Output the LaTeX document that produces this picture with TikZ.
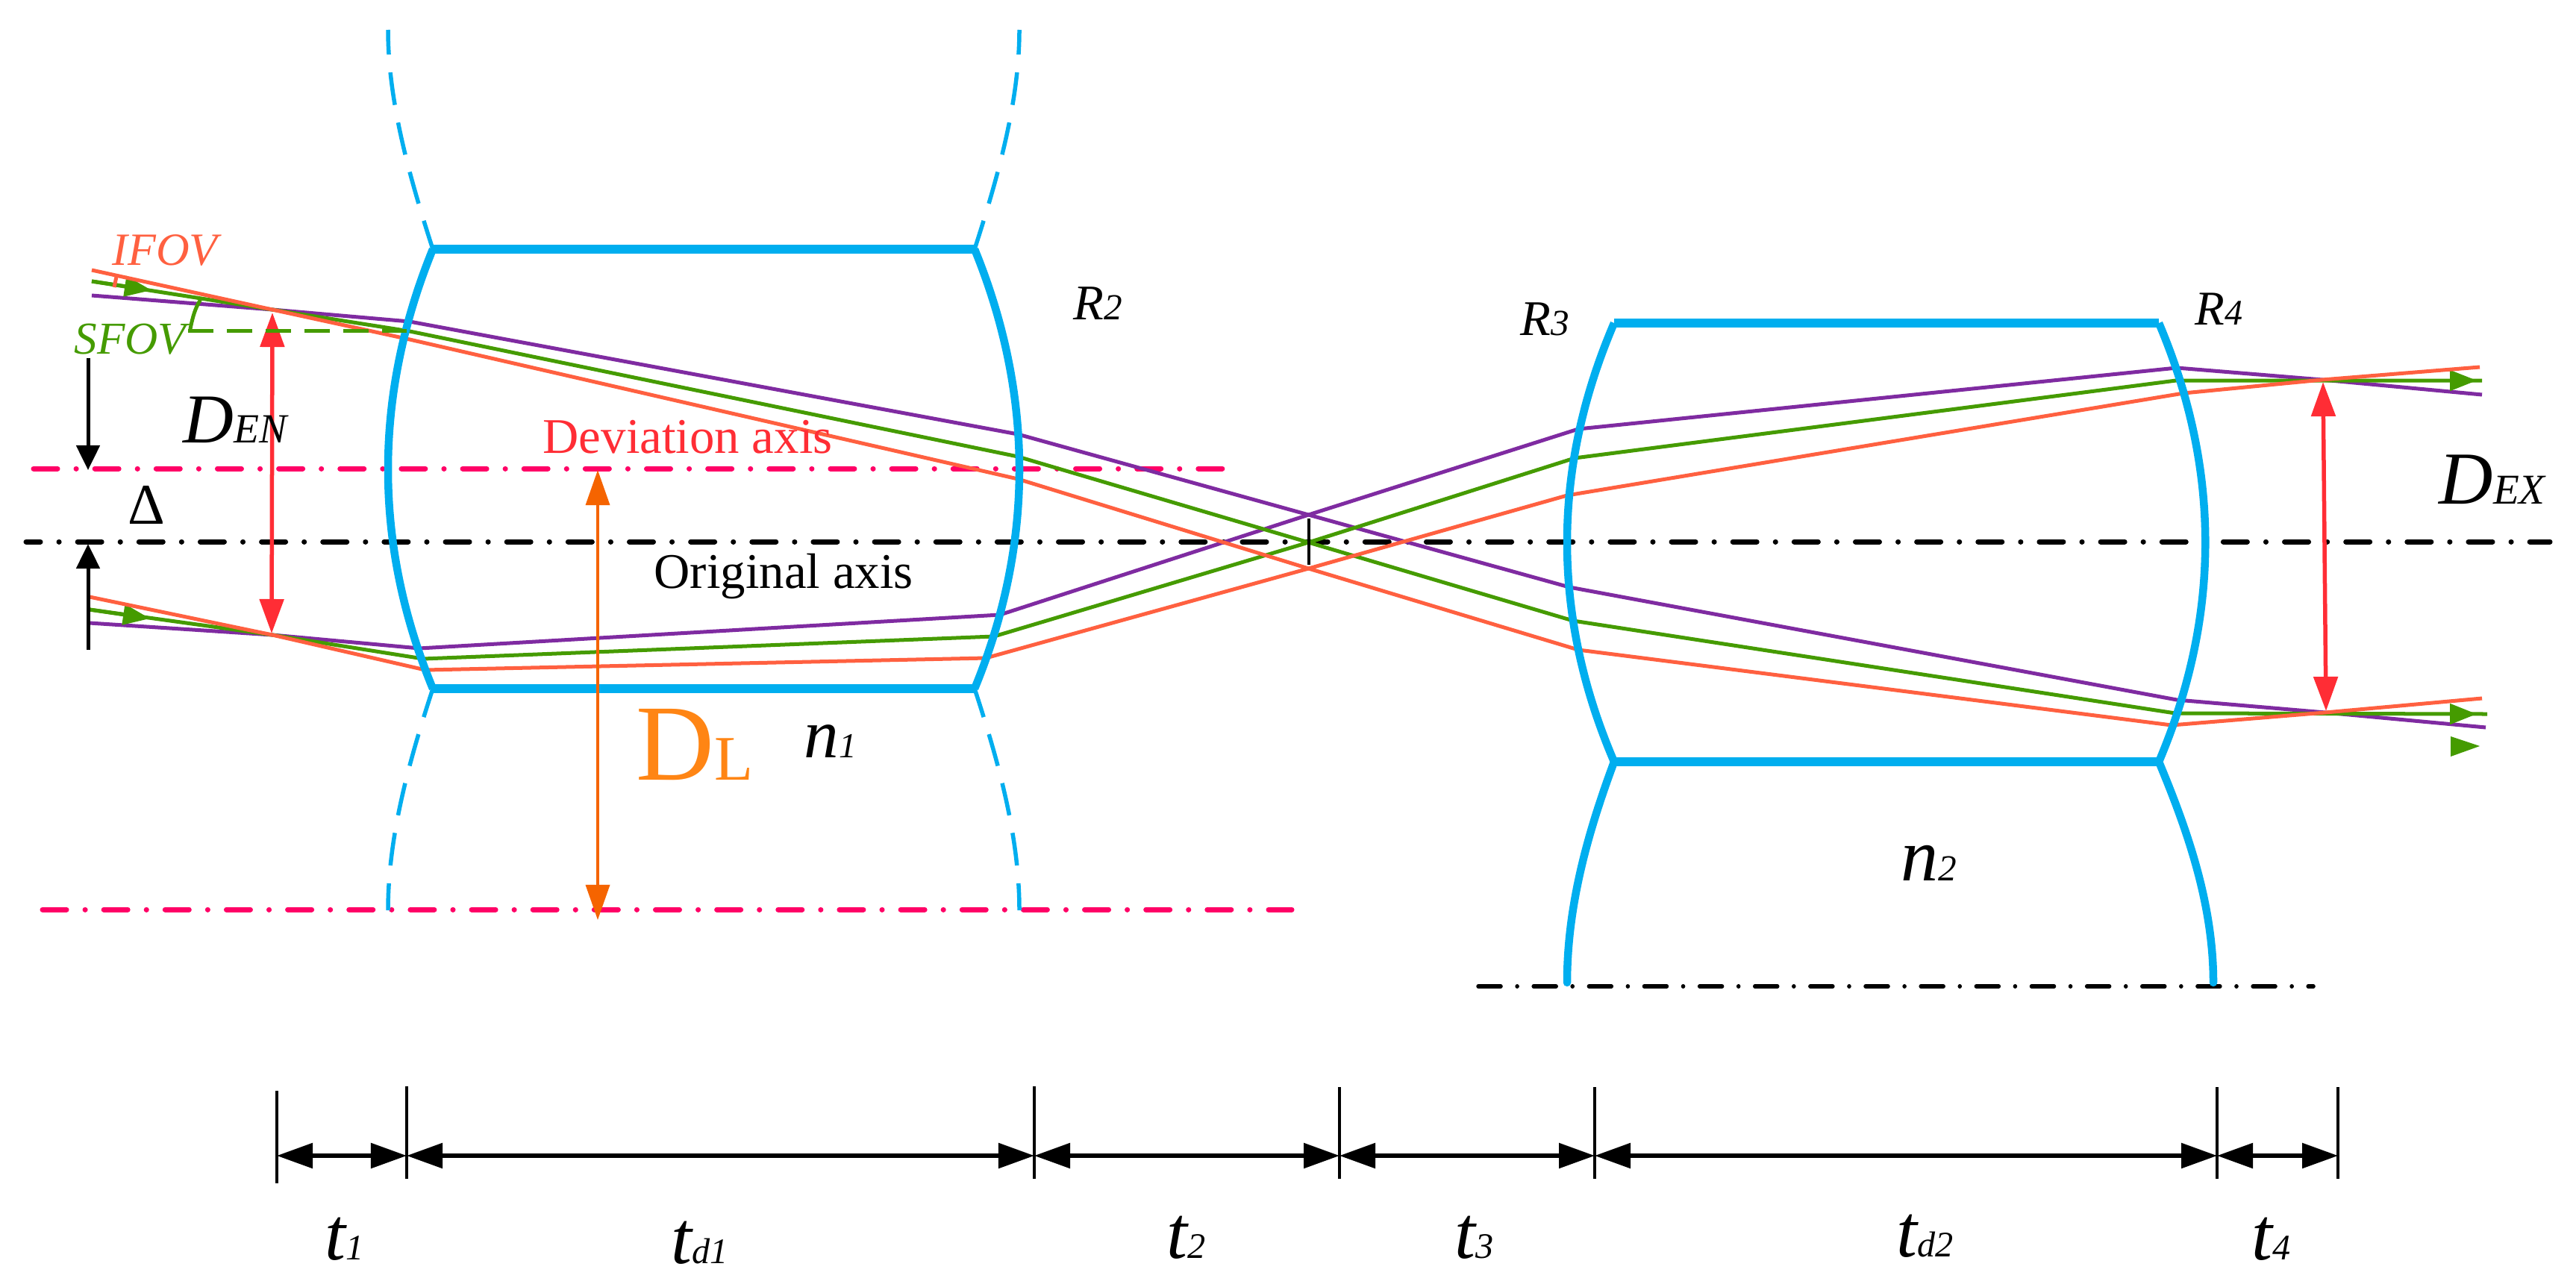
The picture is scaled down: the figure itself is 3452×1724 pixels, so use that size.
\documentclass[tikz,border=0pt]{standalone}
\usepackage{fontspec}
\setmainfont{Liberation Serif}
\usetikzlibrary{arrows.meta}
\newcommand{\fsz}[1]{\fontsize{#1}{#1}\selectfont}
\definecolor{rayPurple}{HTML}{7F2BA1}
\definecolor{rayGreen}{HTML}{459B00}
\definecolor{rayOrange}{HTML}{FF6040}
\definecolor{lensBlue}{HTML}{00AEEF}
\definecolor{axisPink}{HTML}{FF0066}
\definecolor{dimRed}{HTML}{FF2D35}
\definecolor{lensOrange}{HTML}{F56400}
\definecolor{labelOrange}{HTML}{FF8514}
\tikzset{
	lbl/.style={inner sep=0pt,anchor=base west},
	ray/.style={line width=0.05cm,line join=round},
	axisline/.style={line width=0.07cm,line cap=round,dash pattern=on 0.32cm off 0.25cm on 0.001cm off 0.25cm},
	lensface/.style={lensBlue,line width=0.105cm},
	lensedge/.style={lensBlue,line width=0.125cm},
	lensguide/.style={lensBlue,line width=0.055cm,dash pattern=on 0.44cm off 0.24cm,dash phase=0.04cm},
	greenhead/.style={-{Triangle[length=0.36cm,width=0.27cm]}},
	redspan/.style={dimRed,line width=0.055cm,{Triangle[length=0.46cm,width=0.32cm]}-{Triangle[length=0.46cm,width=0.32cm]}},
	blackspan/.style={line width=0.055cm,{Triangle[length=0.48cm,width=0.33cm]}-{Triangle[length=0.48cm,width=0.33cm]}},
	deltaarrow/.style={line width=0.05cm,-{Triangle[length=0.33cm,width=0.31cm]}},
}
\begin{document}
\begin{tikzpicture}[x=0.01cm,y=-0.01cm]
	\useasboundingbox (0,0) rectangle (3452,1724);
	\foreach \n/\x/\y in {
		OrgL/35/726,OrgR/3417/726,DevL/45/628,DevR/1639/628,BaseL/57/1219,BaseR/1731/1219,LowL/1981/1322,LowR/3100/1322,
		PA/123/396,PB/365/415,PC/549/431,PD/1364/582,PX/1753.5/690,PE/2103/787,PF/2917/938,PG/3116/955,PH/3331/975,
		QA/123/377,QB/365/415,QC/549/444,QD/1364/612,QX/1753.5/727,QE/2108/832,QF/2915/956,QG/3333/957,QT/203/389,
		RA/123/362,RB/365/415,RC/549/455,RD/1364/642,RX/1753.5/762,RE/2115/871,RF/2910/972,RG/3116/955,RH/3326/936,
		SA/120/835,SB/365/851,SC/562/869,SD/1340/824,SE/2115/575,SF/2917/493,SG/3112/509,SH/3326/529,
		TA/120/817,TB/365/851,TC/567/883,TD/1332/853,TE/2110/614,TF/2916/510,TG/3326/510,TT/201/829,
		UA/120/800,UB/365/851,UC/570/898,UD/1321/882,UE/2100/664,UF/2926/527,UG/3112/509,UH/3323/492,
		GTopA/3319/510,GTopB/3285/510,GLowA/3319/957,GLowB/3285/957,
		ATopL/580/334,ATopR/1306/334,ABotL/580/923,ABotR/1306/923,
		BTopL/2163/433,BTopR/2893/433,BBotL/2163/1021,BBotR/2893/1021,BEndL/2100/1317,BEndR/2966/1317,
		GuideA/520/40,GuideB/1366/40,GuideC/520/1220,GuideD/1366/1220,
		DenT/365/419,DenB/364/849,DexT/3113/512,DexB/3117/953,DevA/801/630,DevB/801/1233,
		ShiftA/118/480,ShiftB/118/630,ShiftC/118/871,ShiftD/118/729,CrossT/1753.5/695,CrossB/1753.5/757,
		FovA/268/403,FovB/252/443,FovC/545/443,IfovA/156/371,IfovB/153/385%
	}
		\coordinate (\n) at (\x,\y);
	\draw[axisline,axisPink] (DevL) -- (DevR);
	\draw[axisline,axisPink] (BaseL) -- (BaseR);
	\draw[axisline,dash phase=0.13cm] (OrgL) -- (OrgR);
	\draw[axisline,line width=0.055cm,dash pattern=on 0.3cm off 0.22cm on 0.001cm off 0.22cm] (LowL) -- (LowR);
	\draw[ray,rayPurple] (PA) -- (PB) -- (PC) -- (PD) -- (PX) -- (PE) -- (PF) -- (PG) -- (PH);
	\draw[ray,rayPurple] (SA) -- (SB) -- (SC) -- (SD) -- (PX) -- (SE) -- (SF) -- (SG) -- (SH);
	\draw[ray,rayGreen] (QA) -- (QB) -- (QC) -- (QD) -- (QX) -- (QE) -- (QF) -- (QG);
	\draw[ray,rayGreen] (TA) -- (TB) -- (TC) -- (TD) -- (QX) -- (TE) -- (TF) -- (TG);
	\draw[ray,rayGreen,greenhead] (QA) -- (QT);
	\draw[ray,rayGreen,greenhead] (TA) -- (TT);
	\draw[ray,rayGreen,greenhead] (GTopB) -- (GTopA);
	\draw[ray,rayGreen,greenhead] (GLowB) -- (GLowA);
	\fill[rayGreen] (3284,987) -- (3323,1000) -- (3284,1014) -- cycle;
	\draw[ray,rayOrange] (RA) -- (RB) -- (RC) -- (RD) -- (RX) -- (RE) -- (RF) -- (RG) -- (RH);
	\draw[ray,rayOrange] (UA) -- (UB) -- (UC) -- (UD) -- (RX) -- (UE) -- (UF) -- (UG) -- (UH);
	\draw[ray,rayOrange] (IfovA) -- (IfovB);
	\draw[lensedge] (ATopL) -- (ATopR);
	\draw[lensedge] (ABotL) -- (ABotR);
	\draw[lensface] (ATopL) .. controls (500,530) and (500,729) .. (ABotL);
	\draw[lensface] (ATopR) .. controls (1386,530) and (1386,729) .. (ABotR);
	\draw[lensguide] (ATopL) .. controls (548,235) and (520,135) .. (GuideA);
	\draw[lensguide] (ATopR) .. controls (1338,235) and (1366,135) .. (GuideB);
	\draw[lensguide] (ABotL) .. controls (548,1021) and (520,1121) .. (GuideC);
	\draw[lensguide] (ABotR) .. controls (1338,1021) and (1366,1121) .. (GuideD);
	\draw[lensedge] (BTopL) -- (BTopR);
	\draw[lensedge] (BBotL) -- (BBotR);
	\draw[lensface] (BTopL) .. controls (2079,629) and (2079,825) .. (BBotL);
	\draw[lensface] (BTopR) .. controls (2976,629) and (2976,825) .. (BBotR);
	\draw[lensface,line cap=round] (BBotL) .. controls (2130,1110) and (2100,1210) .. (BEndL);
	\draw[lensface,line cap=round] (BBotR) .. controls (2930,1110) and (2966,1210) .. (BEndR);
	\draw[redspan] (DenT) -- (DenB);
	\draw[redspan] (DexT) -- (DexB);
	\draw[lensOrange,line width=0.035cm,{Triangle[length=0.47cm,width=0.32cm]}-{Triangle[length=0.47cm,width=0.32cm]}] (DevA) -- (DevB);
	\draw[ray,rayGreen,line cap=round] (FovA) .. controls (262,412) and (258,425) .. (255,441);
	\draw[ray,rayGreen,dash pattern=on 0.34cm off 0.18cm] (FovB) -- (FovC);
	\draw[deltaarrow] (ShiftA) -- (ShiftB);
	\draw[deltaarrow] (ShiftC) -- (ShiftD);
	\draw[line width=0.04cm] (CrossT) -- (CrossB);
	\foreach \n/\x/\y/\z in {KA/371/1462/1586,KB/545/1456/1580,KC/1386/1456/1580,KD/1795/1457/1580,KE/2137/1457/1580,KF/2971/1457/1580,KG/3133/1457/1580} {
		\coordinate (\n top) at (\x,\y);
		\coordinate (\n bot) at (\x,\z);
		\coordinate (\n mid) at (\x,1549);
		\draw[line width=0.045cm] (\n top) -- (\n bot);
	}
	\foreach \a/\b in {KA/KB,KB/KC,KC/KD,KD/KE,KE/KF,KF/KG}
		\draw[blackspan] (\a mid) -- (\b mid);
	\node[lbl,rayOrange,font=\fsz{17.6}\itshape] (Ifov) at (150,355) {IFOV};
	\node[lbl,rayGreen,font=\fsz{17.4}\itshape] (Sfov) at (99,474) {SFOV};
	\node[lbl,font=\fsz{26.7}\itshape] (Den) at (245,593) {D\fsz{15.8}EN};
	\node[lbl,font=\fsz{28.5}\itshape] (Dex) at (3268,675) {D\fsz{16.2}EX};
	\node[lbl,font=\fsz{22}] (Shift) at (171,702) {Δ};
	\node[lbl,dimRed,font=\fsz{19}] (DevText) at (727,607) {Deviation axis};
	\node[lbl,font=\fsz{19}] (OrgText) at (876,788) {Original axis};
	\node[lbl,labelOrange,font=\fsz{41.3}] (Dl) at (852,1045) {D\fsz{24.2}L};
	\node[lbl,font=\fsz{26.5}\itshape] (NOne) at (1077,1015) {n\fsz{13.4}1};
	\node[lbl,font=\fsz{28.5}\itshape] (NTwo) at (2547,1180) {n\fsz{14}2};
	\node[lbl,font=\fsz{19}\itshape] (RTwo) at (1438,428) {R\fsz{14}2};
	\node[lbl,font=\fsz{19}\itshape] (RThree) at (2037,449) {R\fsz{14}3};
	\node[lbl,font=\fsz{18.5}\itshape] (RFour) at (2941,435) {R\fsz{13.7}4};
	\node[lbl,font=\fsz{28.5}\itshape] (TOne) at (435,1688) {t\fsz{13.7}1};
	\node[lbl,font=\fsz{28.5}\itshape] (TdOne) at (899,1693) {t\fsz{13.7}d1};
	\node[lbl,font=\fsz{28.5}\itshape] (TTwo) at (1563,1686) {t\fsz{13.7}2};
	\node[lbl,font=\fsz{28.5}\itshape] (TThree) at (1949,1686) {t\fsz{13.7}3};
	\node[lbl,font=\fsz{28.5}\itshape] (TdTwo) at (2541,1684) {t\fsz{13.7}d2};
	\node[lbl,font=\fsz{28.5}\itshape] (TFour) at (3017,1688) {t\fsz{13.7}4};
\end{tikzpicture}
\end{document}
